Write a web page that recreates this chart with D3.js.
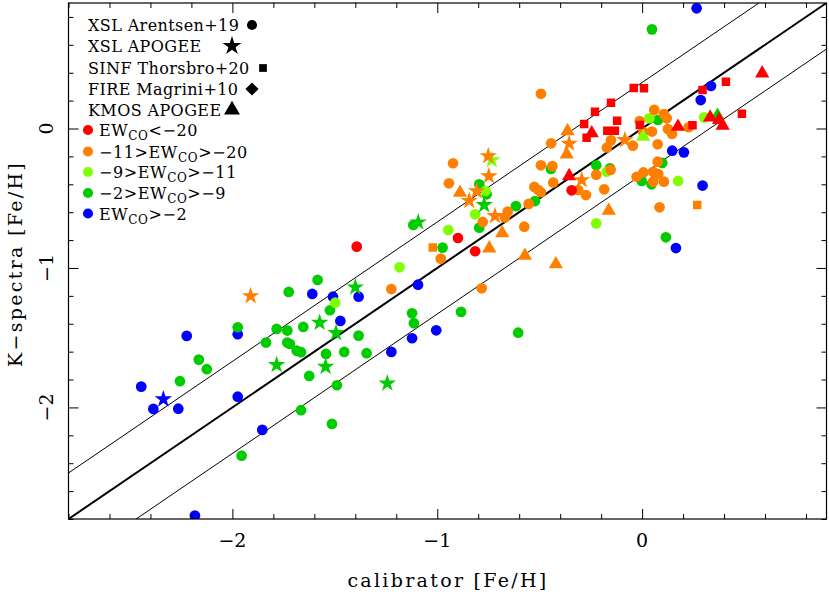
<!DOCTYPE html>
<html>
<head>
<meta charset="utf-8">
<script src="https://cdn.jsdelivr.net/npm/d3@7"></script>
<style>
  body { margin: 0; background: #fff; }
  svg text { font-family: "DejaVu Serif", "Liberation Serif", serif; fill: #000; }
</style>
</head>
<body>
<svg id="chart" width="829" height="598"></svg>
<script>
// axis ranges and ticks
var xDomain = [-2.8, 0.9];
var yDomain = [-2.8, 0.9];
var majorTicks = [-2, -1, 0];
var lineOffset = 0.33;

// XSL Arentsen+19 (circles), split by EW_CO bin
var arentsenBlue = [[-2.223,-1.487],[-1.974,-1.475],[-2.445,-1.851],[-2.386,-2.011],[-2.264,-2.009],
  [-1.974,-1.923],[-1.854,-2.161],[-2.183,-2.776],[-1.610,-1.186],[-1.509,-1.206],[-1.384,-1.206],
  [-1.473,-1.380],[-1.094,-1.120],[-1.123,-1.504],[-1.224,-1.602],[-1.005,-1.447],[0.266,0.862],
  [0.336,0.305],[0.286,0.204],[0.147,-0.159],[0.204,-0.171],[0.295,-0.409],[0.165,-0.857]];
var arentsenGreen = [[-1.974,-1.425],[-1.784,-1.437],[-1.732,-1.449],[-1.836,-1.535],[-1.732,-1.535],
  [-1.719,-1.545],[-1.686,-1.593],[-2.164,-1.657],[-2.125,-1.726],[-2.256,-1.812],[-1.955,-2.346],
  [-1.584,-1.086],[-1.725,-1.172],[-1.524,-1.303],[-1.654,-1.423],[-1.665,-1.604],[-1.543,-1.616],
  [-1.454,-1.602],[-1.384,-1.485],[-1.345,-1.611],[-1.625,-1.774],[-1.490,-1.841],[-1.665,-2.020],
  [-1.514,-2.118],[-1.123,-1.325],[-1.114,-1.396],[-0.884,-1.315],[-0.605,-1.464],[-1.117,-0.692],
  [-0.974,-0.854],[-0.795,-0.400],[-0.759,-0.472],[-0.795,-0.711],[-0.616,-0.556],[-0.523,-0.520],
  [-0.445,-0.290],[-0.224,-0.264],[-0.157,-0.285],[0.098,-0.247],[-0.002,-0.376],[0.046,-0.400],
  [0.077,0.061],[0.048,0.711],[0.116,-0.780]];
var arentsenLime = [[-1.498,-1.249],[-1.184,-0.995],[-0.946,-0.728],[-0.815,-0.615],[-0.764,-0.448],
  [-0.173,-0.310],[-0.224,-0.680],[0.035,0.073],[0.176,-0.376],[0.303,0.080]];
var arentsenOrange = [[-0.923,-0.249],[-0.943,-0.393],[-1.224,-1.151],[-0.983,-0.933],[-0.778,-0.670],
  [-0.783,-1.146],[-0.656,-0.596],[-0.670,-0.637],[-0.554,-0.541],[-0.575,-0.704],[-0.526,-0.419],
  [-0.507,-0.441],[-0.494,-0.457],[-0.434,-0.387],[-0.494,-0.264],[-0.438,-0.269],[-0.444,-0.106],
  [-0.494,0.249],[-0.312,-0.441],[-0.274,-0.477],[-0.185,-0.436],[-0.224,-0.331],[-0.154,-0.297],
  [-0.152,-0.085],[-0.172,-0.136],[-0.045,-0.123],[0.076,-0.113],[0.006,-0.025],[0.048,-0.022],
  [-0.012,0.054],[0.059,0.133],[0.106,0.104],[0.120,0.073],[0.126,-0.004],[0.146,-0.039],
  [0.227,0.009],[0.076,-0.238],[-0.027,-0.346],[0.006,-0.315],[0.054,-0.310],[0.079,-0.326],
  [0.054,-0.381],[0.106,-0.381],[0.085,-0.565]];
var arentsenRed = [[-1.393,-0.847],[-0.899,-0.785],[-0.815,-0.880],[-0.344,-0.443]];

// XSL APOGEE (stars)
var xslApogeeBlue = [[-2.337,-1.941]];
var xslApogeeGreen = [[-1.784,-1.695],[-1.574,-1.392],[-1.494,-1.466],[-1.545,-1.708],[-1.400,-1.138],
  [-1.244,-1.827],[-1.093,-0.672],[-0.771,-0.548]];
var xslApogeeLime = [[-0.734,-0.226]];
var xslApogeeOrange = [[-1.911,-1.201],[-0.751,-0.197],[-0.748,-0.341],[-0.808,-0.448],[-0.844,-0.518],
  [-0.718,-0.627],[-0.356,-0.108],[-0.295,-0.369],[-0.084,-0.082]];

// SINF Thorsbro+20 (squares)
var thorsbroOrange = [[-1.022,-0.854],[0.269,-0.548]];
var thorsbroRed = [[-0.041,0.290],[0.009,0.288],[-0.152,0.185],[-0.230,0.120],[-0.122,0.056],
  [-0.283,0.032],[-0.011,0.025],[-0.170,-0.016],[-0.133,-0.016],[-0.271,-0.066],[0.246,0.023],
  [0.487,0.106],[0.295,0.276],[0.409,0.335]];

// KMOS APOGEE (triangles)
var kmosGreen = [[0.368,0.092]];
var kmosLime = [[0.005,-0.059]];
var kmosOrange = [[-0.889,-0.460],[-0.746,-0.859],[-0.683,-0.751],[-0.572,-0.912],[-0.421,-0.973],
  [-0.364,-0.018],[-0.368,-0.185],[-0.163,-0.589]];
var kmosRed = [[0.586,0.396],[-0.246,-0.034],[0.175,0.013],[0.332,0.080],[0.376,0.061],[0.393,0.020],
  [-0.356,-0.341]];

var surveyLabels = ["XSL Arentsen+19", "XSL APOGEE", "SINF Thorsbro+20", "FIRE Magrini+10", "KMOS APOGEE"];
var binLabels = [["", "EW", "CO", "<\u221220"], ["\u221211>", "EW", "CO", ">\u221220"],
  ["\u22129>", "EW", "CO", ">\u221211"], ["\u22122>", "EW", "CO", ">\u22129"], ["", "EW", "CO", ">\u22122"]];

var colors = { red: "#ff0000", orange: "#ff8000", lime: "#80ff00", green: "#00cc00", blue: "#0000ff" };

var svg = d3.select("#chart");
var m = { left: 68.5, right: 826.5, top: 3, bottom: 519 };
var xs = d3.scaleLinear().domain(xDomain).range([m.left, m.right]);
var ys = d3.scaleLinear().domain(yDomain).range([m.bottom, m.top]);

var minorTicks = d3.range(-2.8, 0.91, 0.2).map(function (d) { return Math.round(d * 10) / 10; })
  .filter(function (d) { return majorTicks.indexOf(d) < 0; });

svg.append("defs").append("clipPath").attr("id", "clip")
  .append("rect").attr("x", m.left).attr("y", m.top)
  .attr("width", m.right - m.left).attr("height", m.bottom - m.top);

// diagonal lines
var plot = svg.append("g").attr("clip-path", "url(#clip)");
[[0, 2], [lineOffset, 1], [-lineOffset, 1]].forEach(function (l) {
  plot.append("line")
    .attr("x1", xs(-3)).attr("y1", ys(-3 + l[0]))
    .attr("x2", xs(1)).attr("y2", ys(1 + l[0]))
    .attr("stroke", "#000").attr("stroke-width", l[1]);
});

// points
function sym(type, size) { return d3.symbol().type(type).size(size)(); }
var shapes = {
  circle: sym(d3.symbolCircle, 90),
  star: sym(d3.symbolStar, 95),
  square: sym(d3.symbolSquare, 72),
  triangle: sym(d3.symbolTriangle, 88)
};
var groups = [
  [arentsenBlue, "circle", "blue"], [arentsenGreen, "circle", "green"], [arentsenLime, "circle", "lime"],
  [arentsenOrange, "circle", "orange"], [arentsenRed, "circle", "red"],
  [thorsbroOrange, "square", "orange"], [thorsbroRed, "square", "red"],
  [kmosGreen, "triangle", "green"], [kmosLime, "triangle", "lime"],
  [kmosOrange, "triangle", "orange"], [kmosRed, "triangle", "red"],
  [xslApogeeBlue, "star", "blue"], [xslApogeeGreen, "star", "green"],
  [xslApogeeLime, "star", "lime"], [xslApogeeOrange, "star", "orange"]
];
groups.forEach(function (g) {
  plot.selectAll(null).data(g[0]).enter().append("path")
    .attr("d", shapes[g[1]])
    .attr("transform", function (d) { return "translate(" + xs(d[0]) + "," + ys(d[1]) + ")"; })
    .attr("fill", colors[g[2]]);
});

// frame and ticks
svg.append("rect").attr("x", m.left).attr("y", m.top)
  .attr("width", m.right - m.left).attr("height", m.bottom - m.top)
  .attr("fill", "none").attr("stroke", "#000").attr("stroke-width", 1.2);

function ticks(axis, scale, vals, len, tr) {
  svg.append("g").attr("transform", tr)
    .call(axis(scale).tickValues(vals).tickSize(len).tickFormat(""))
    .call(function (g) { g.select(".domain").remove(); g.selectAll("line").attr("stroke", "#000"); });
}
ticks(d3.axisBottom, xs, minorTicks, -5, "translate(0," + m.bottom + ")");
ticks(d3.axisBottom, xs, majorTicks, -10, "translate(0," + m.bottom + ")");
ticks(d3.axisTop, xs, minorTicks, -5, "translate(0," + m.top + ")");
ticks(d3.axisTop, xs, majorTicks, -10, "translate(0," + m.top + ")");
ticks(d3.axisLeft, ys, minorTicks, -5, "translate(" + m.left + ",0)");
ticks(d3.axisLeft, ys, majorTicks, -10, "translate(" + m.left + ",0)");
ticks(d3.axisRight, ys, minorTicks, -5, "translate(" + m.right + ",0)");
ticks(d3.axisRight, ys, majorTicks, -10, "translate(" + m.right + ",0)");

var fmt = d3.format("d");
svg.selectAll(".xlab").data(majorTicks).enter().append("text")
  .attr("x", function (d) { return xs(d); }).attr("y", 547)
  .attr("text-anchor", "middle").attr("font-size", 19).text(fmt);
svg.selectAll(".ylab").data(majorTicks).enter().append("text")
  .attr("transform", function (d) { return "translate(53," + ys(d) + ") rotate(-90)"; })
  .attr("text-anchor", "middle").attr("font-size", 19).text(fmt);

svg.append("text").attr("x", 448).attr("y", 587).attr("text-anchor", "middle")
  .attr("font-size", 19).attr("letter-spacing", 2.3).text("calibrator [Fe/H]");
svg.append("text").attr("transform", "translate(22,264) rotate(-90)").attr("text-anchor", "middle")
  .attr("font-size", 19).attr("letter-spacing", 2.3).text("K\u2212spectra [Fe/H]");

// legend: surveys
var legShapes = [sym(d3.symbolCircle, 80), sym(d3.symbolStar, 110), sym(d3.symbolSquare, 60),
  sym(d3.symbolDiamond2, 110), sym(d3.symbolTriangle, 110)];
var legMarkX = [252, 232, 263, 252, 232];
var legY = [25, 46, 68, 89, 110];
surveyLabels.forEach(function (t, i) {
  svg.append("text").attr("x", 88).attr("y", legY[i] + 6).attr("font-size", 16)
    .attr("letter-spacing", 0.4).text(t);
  svg.append("path").attr("d", legShapes[i])
    .attr("transform", "translate(" + legMarkX[i] + "," + legY[i] + ")").attr("fill", "#000");
});

// legend: EW_CO bins
var binColors = ["red", "orange", "lime", "green", "blue"];
var binY = [130, 151.5, 172, 193, 213.5];
binLabels.forEach(function (b, i) {
  svg.append("path").attr("d", sym(d3.symbolCircle, 80))
    .attr("transform", "translate(88," + binY[i] + ")").attr("fill", colors[binColors[i]]);
  var t = svg.append("text").attr("x", 99).attr("y", binY[i] + 6).attr("font-size", 16)
    .attr("letter-spacing", 0.6);
  t.append("tspan").text(b[0] + b[1]);
  t.append("tspan").attr("font-size", 12).attr("dy", 4).text(b[2]);
  t.append("tspan").attr("dy", -4).text(b[3]);
});
</script>
</body>
</html>
